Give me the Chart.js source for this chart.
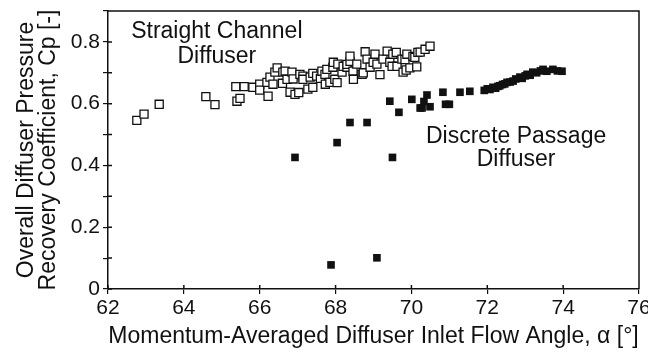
<!DOCTYPE html>
<html>
<head>
<meta charset="utf-8">
<script src="https://cdn.jsdelivr.net/npm/chart.js@4/dist/chart.umd.min.js"></script>
<style>
  html, body { margin: 0; padding: 0; background: #fff; }
</style>
</head>
<body>
<canvas id="mainChart" width="648" height="353"></canvas>
<script>
// === Data ===
// Straight channel diffuser (open squares)
const straightX = [62.76, 62.95, 63.35, 64.58, 64.82, 65.40, 65.48, 65.37, 65.59,
  65.82, 66.00, 66.00, 66.19, 66.22, 66.27, 66.35, 66.40, 66.46, 66.61, 66.60, 66.67,
  66.72, 66.80, 66.85, 66.88, 66.93, 67.03, 67.06, 67.14, 67.14, 67.27, 67.33, 67.40,
  67.40, 67.50, 67.60, 67.64, 67.72, 67.77, 67.73, 67.85, 67.93, 67.94, 67.98, 68.04,
  68.06, 68.17, 68.20, 68.30, 68.30, 68.38, 68.38, 68.46, 68.47, 68.56, 68.70, 68.73,
  68.78, 68.83, 68.91, 68.99, 69.04, 69.09, 69.17, 69.25, 69.36, 69.43, 69.49, 69.51,
  69.60, 69.62, 69.75, 69.78, 69.83, 69.86, 69.88, 69.96, 70.04, 70.09, 70.14, 70.17,
  70.23, 70.36, 70.49];
const straightY = [0.546, 0.566, 0.598, 0.623, 0.597, 0.608, 0.617, 0.655, 0.655,
  0.653, 0.663, 0.644, 0.669, 0.624, 0.686, 0.663, 0.702, 0.716, 0.702, 0.666, 0.705,
  0.679, 0.637, 0.702, 0.680, 0.630, 0.636, 0.695, 0.689, 0.679, 0.647, 0.686, 0.653,
  0.698, 0.689, 0.682, 0.705, 0.695, 0.711, 0.663, 0.669, 0.718, 0.734, 0.679, 0.668,
  0.728, 0.702, 0.721, 0.718, 0.727, 0.737, 0.754, 0.705, 0.679, 0.728, 0.695, 0.700,
  0.768, 0.744, 0.718, 0.734, 0.760, 0.728, 0.694, 0.744, 0.770, 0.734, 0.721, 0.760,
  0.766, 0.721, 0.744, 0.702, 0.743, 0.709, 0.760, 0.716, 0.753, 0.750, 0.719, 0.766,
  0.767, 0.776, 0.786];

// Discrete passage diffuser (filled squares)
const discreteX = [66.93, 67.88, 68.04, 68.38, 68.83, 69.09, 69.43, 69.50, 69.67,
  70.01, 70.23, 70.28, 70.33, 70.41, 70.49, 70.83, 70.90, 71.00, 71.28, 71.54,
  71.92, 72.00, 72.07, 72.15, 72.22, 72.28, 72.33, 72.40, 72.46, 72.52, 72.60, 72.68,
  72.75, 72.86, 72.92, 73.00, 73.05, 73.13, 73.20, 73.30, 73.40, 73.47, 73.57, 73.73,
  73.85, 73.97];
const discreteY = [0.426, 0.078, 0.474, 0.539, 0.539, 0.101, 0.608, 0.426, 0.572,
  0.614, 0.586, 0.586, 0.607, 0.628, 0.590, 0.637, 0.598, 0.598, 0.637, 0.640,
  0.643, 0.648, 0.646, 0.653, 0.650, 0.656, 0.658, 0.662, 0.664, 0.669, 0.670, 0.673,
  0.680, 0.686, 0.682, 0.690, 0.695, 0.692, 0.702, 0.700, 0.706, 0.711, 0.705, 0.711,
  0.706, 0.705];

// Axis range and tick steps
const xRange = [62, 76];
const yRange = [0, 0.9];
const xStep = 2;
const yStep = 0.1;

// Text labels inside the plot (anchored at data coordinates, baseline)
const noteText = ["Straight Channel", "Diffuser", "Discrete Passage", "Diffuser"];
const noteX = [64.87, 64.87, 72.76, 72.76];
const noteY = [0.813, 0.732, 0.473, 0.398];

const FONT = "'Liberation Sans', Arial, Helvetica, sans-serif";
const INK = "#111";

const zip = (xs, ys) => xs.map((x, i) => ({ x: x, y: ys[i] }));

// === Box frame, inward tick marks and the two curve labels ===
const framePlugin = {
  id: "frame",
  afterDraw(chart) {
    const { ctx, chartArea: a, scales } = chart;
    ctx.save();
    ctx.strokeStyle = INK;
    ctx.lineWidth = 1.5;
    ctx.beginPath();
    ctx.moveTo(a.left, a.top);
    ctx.lineTo(a.right, a.top);
    ctx.lineTo(a.right, a.bottom);
    scales.x.ticks.forEach(t => {
      const px = scales.x.getPixelForValue(t.value);
      ctx.moveTo(px, a.bottom);
      ctx.lineTo(px, a.bottom - 4);
    });
    scales.y.ticks.forEach(t => {
      const py = scales.y.getPixelForValue(t.value);
      ctx.moveTo(a.left, py);
      ctx.lineTo(a.left + 4, py);
    });
    ctx.stroke();

    ctx.fillStyle = INK;
    ctx.font = "23px " + FONT;
    ctx.textAlign = "center";
    ctx.textBaseline = "alphabetic";
    noteText.forEach((txt, i) => {
      ctx.fillText(txt, scales.x.getPixelForValue(noteX[i]), scales.y.getPixelForValue(noteY[i]));
    });
    ctx.restore();
  }
};

new Chart(document.getElementById("mainChart").getContext("2d"), {
  type: "scatter",
  data: {
    datasets: [
      {
        label: "Discrete Passage Diffuser",
        data: zip(discreteX, discreteY),
        pointStyle: "rect",
        pointRadius: 5.4,
        backgroundColor: INK,
        borderColor: INK,
        borderWidth: 0
      },
      {
        label: "Straight Channel Diffuser",
        data: zip(straightX, straightY),
        pointStyle: "rect",
        pointRadius: 5.7,
        backgroundColor: "#fff",
        borderColor: INK,
        borderWidth: 1.3
      }
    ]
  },
  options: {
    responsive: false,
    animation: false,
    layout: { padding: { top: 11, left: 2, right: 0, bottom: 0 } },
    plugins: {
      legend: { display: false },
      tooltip: { enabled: false }
    },
    scales: {
      x: {
        type: "linear",
        min: xRange[0],
        max: xRange[1],
        border: { color: INK, width: 1.5 },
        grid: { drawOnChartArea: false, color: INK, tickLength: 5, lineWidth: 1.2 },
        ticks: { stepSize: xStep, color: INK, padding: 2, font: { family: FONT, size: 21 } },
        title: {
          display: true,
          text: "Momentum-Averaged Diffuser Inlet Flow Angle, \u03b1 [\u00b0]",
          color: INK,
          padding: { top: 0, bottom: 3 },
          font: { family: FONT, size: 23 }
        },
        afterFit(s) {
          s.height = 64;
          s.paddingLeft = 0;
          s.paddingRight = 9;
        }
      },
      y: {
        type: "linear",
        min: yRange[0],
        max: yRange[1],
        border: { color: INK, width: 1.5 },
        grid: { drawOnChartArea: false, color: INK, tickLength: 5, lineWidth: 1.2 },
        ticks: {
          stepSize: yStep,
          color: INK,
          padding: 3,
          font: { family: FONT, size: 21 },
          callback: v => {
            const k = Math.round(v * 10);
            if (k % 2 !== 0) return "";
            return k === 0 ? "0" : (k / 10).toFixed(1);
          }
        },
        title: {
          display: true,
          text: ["Overall Diffuser Pressure", "Recovery Coefficient, Cp [-]"],
          color: INK,
          padding: { top: 14, bottom: 0 },
          font: { family: FONT, size: 23, lineHeight: "22px" }
        },
        afterFit(s) {
          s.width = 106;
          s.paddingTop = 0;
          s.paddingBottom = 0;
        }
      }
    }
  },
  plugins: [framePlugin]
});
</script>
</body>
</html>
